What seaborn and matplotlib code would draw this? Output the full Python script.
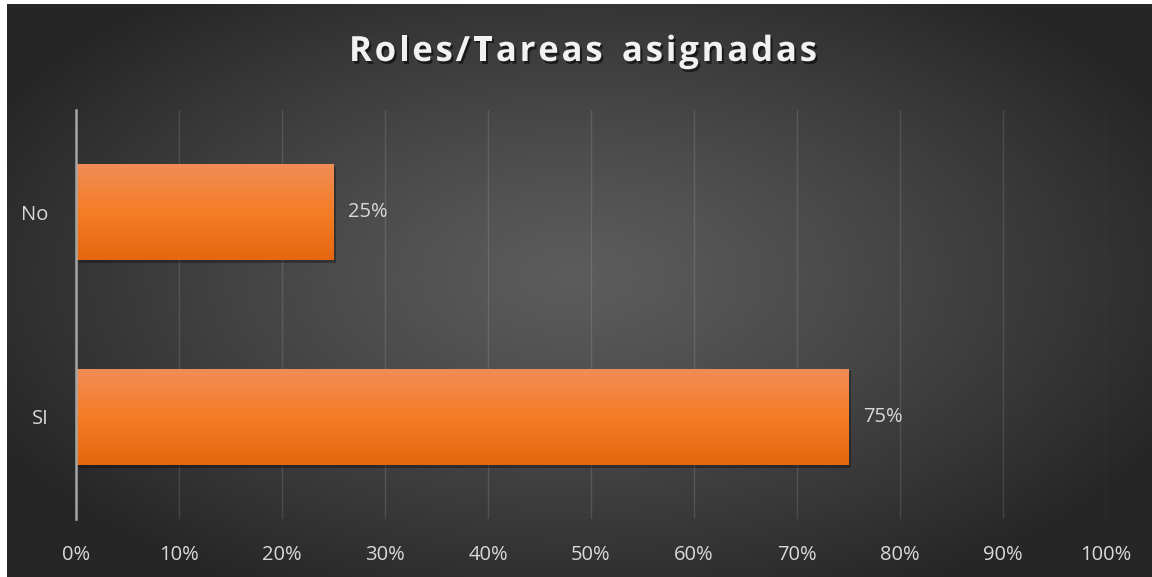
#!/usr/bin/env python3
"""Horizontal bar chart: Roles/Tareas asignadas."""
import numpy as np
import matplotlib
matplotlib.use('Agg')
import matplotlib.pyplot as plt
import matplotlib.patheffects as pe
from matplotlib.colors import LinearSegmentedColormap
import seaborn as sns

categories = ['No', 'SI']
values = [25, 75]
x_ticks = [0, 10, 20, 30, 40, 50, 60, 70, 80, 90, 100]
title = 'Roles/Tareas asignadas'

sns.set_theme(style='white')
plt.rcParams['font.family'] = ['Open Sans', 'DejaVu Sans']

W, H = 1152, 577
fig = plt.figure(figsize=(W / 100, H / 100), dpi=100, facecolor='white')

# radial dark background
bg = fig.add_axes([7 / W, 0, 1 - 7 / W, 573 / H])
bg.set_axis_off()
gx, gy = np.meshgrid(np.linspace(-1, 1, 600), np.linspace(-1, 1, 300))
r = np.clip(np.sqrt((gx / 1.15) ** 2 + ((gy + 0.05) / 1.25) ** 2), 0, 1)
shade = (0x5c - (0x5c - 0x26) * r ** 1.2) / 255.0
bg.imshow(np.dstack([shade, shade, shade]), aspect='auto', extent=(0, 1, 0, 1))
bg.set_xlim(0, 1)
bg.set_ylim(0, 1)

ax = fig.add_axes([76 / W, 1 - 519 / H, (1106 - 76) / W, (519 - 110) / H])
ax.patch.set_alpha(0)

sns.barplot(x=values, y=categories, orient='h', color='#f47c24', width=0.47,
            ax=ax, zorder=3)

orange = LinearSegmentedColormap.from_list(
    'org', ['#e5670f', '#f47d26', '#f28d58'])
grad = np.linspace(0, 1, 256).reshape(-1, 1)
for bar in ax.patches:
    bar.set_edgecolor('none')
    bar.set_path_effects([pe.SimplePatchShadow(offset=(2, -2), alpha=0.3,
                                               shadow_rgbFace='black'),
                          pe.Normal()])
    x0, y0 = bar.get_x(), bar.get_y()
    w, h = bar.get_width(), bar.get_height()
    im = ax.imshow(grad, cmap=orange, aspect='auto', origin='lower',
                   extent=(x0, x0 + w, y0 + h, y0), zorder=4)
    im.set_clip_path(bar)

for i, v in enumerate(values):
    ax.text(v + 1.4, i, f'{v}%', va='center', ha='left', fontsize=14.5,
            color='#d9d9d9')

ax.set_xlim(0, 100)
ax.set_ylim(1.5, -0.5)
ax.set_xticks(x_ticks)
ax.set_xticklabels([f'{t}%' for t in x_ticks])
ax.tick_params(axis='x', colors='#d9d9d9', labelsize=14.5, length=0, pad=19)
ax.tick_params(axis='y', colors='#d9d9d9', labelsize=14.5, length=0, pad=20)
ax.set_xlabel('')
ax.set_ylabel('')
ax.grid(axis='x', color='white', alpha=0.12, linewidth=1)
ax.set_axisbelow(True)
for s in ['top', 'right', 'bottom']:
    ax.spines[s].set_visible(False)
ax.spines['left'].set_color('#a6a6a6')
ax.spines['left'].set_linewidth(1.8)
ax.spines['left'].set_zorder(5)

# title drawn letter by letter to get the wide letter spacing
renderer = fig.canvas.get_renderer()
title_kw = dict(fontsize=25, fontweight='bold', color='#f2f2f2', va='center',
                ha='left',
                path_effects=[pe.withSimplePatchShadow(offset=(1.5, -2),
                                                       shadow_rgbFace='black',
                                                       alpha=0.55)])
widths = []
for ch in title:
    t = fig.text(0, 0, ch if ch != ' ' else 'n', **title_kw)
    widths.append(t.get_window_extent(renderer).width)
    t.remove()
widths = [w * (0.6 if ch == ' ' else 1.0) for w, ch in zip(widths, title)]
target = 468
gap = (target - sum(widths)) / (len(title) - 1)
x = 583 - target / 2
for ch, w in zip(title, widths):
    if ch != ' ':
        fig.text(x / W, 1 - 52 / H, ch, **title_kw)
    x += w + gap

fig.savefig('out.png', dpi=100, facecolor='white')
